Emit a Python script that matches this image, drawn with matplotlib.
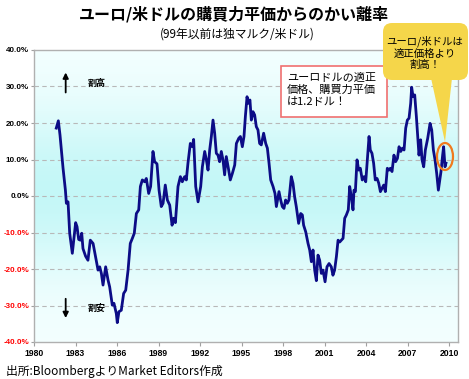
import numpy as np
import matplotlib
matplotlib.use("Agg")
import matplotlib.pyplot as plt
from matplotlib import patches

plt.rcParams['font.family'] = ['Noto Sans CJK JP', 'DejaVu Sans']
plt.rcParams['axes.unicode_minus'] = False

# 購買力平価からのかい離率 (%)
years = [1981.61, 1981.76, 1981.88, 1982.10, 1982.27, 1982.34, 1982.46, 1982.58, 1982.77, 1982.87,
         1983.01, 1983.11, 1983.23, 1983.35, 1983.45, 1983.54, 1983.73, 1983.90, 1984.07, 1984.27,
         1984.50, 1984.63, 1984.75, 1984.87, 1984.99, 1985.18, 1985.35, 1985.47, 1985.66, 1985.78,
         1985.95, 1986.02, 1986.14, 1986.31, 1986.48, 1986.63, 1986.80, 1986.96, 1987.11, 1987.25,
         1987.40, 1987.57, 1987.69, 1987.83, 1988.00, 1988.12, 1988.29, 1988.43, 1988.60, 1988.72,
         1988.89, 1989.04, 1989.20, 1989.33, 1989.49, 1989.64, 1989.81, 1989.98, 1990.10, 1990.22,
         1990.41, 1990.58, 1990.72, 1990.89, 1991.01, 1991.13, 1991.30, 1991.45, 1991.54, 1991.69,
         1991.86, 1992.05, 1992.17, 1992.34, 1992.46, 1992.58, 1992.70, 1992.82, 1992.94, 1993.06,
         1993.18, 1993.30, 1993.42, 1993.54, 1993.66, 1993.78, 1993.90, 1994.05, 1994.19, 1994.34,
         1994.51, 1994.63, 1994.80, 1994.92, 1995.06, 1995.18, 1995.28, 1995.40, 1995.49, 1995.61,
         1995.71, 1995.83, 1995.95, 1996.07, 1996.19, 1996.31, 1996.43, 1996.60, 1996.75, 1996.87,
         1996.99, 1997.11, 1997.28, 1997.42, 1997.52, 1997.71, 1997.83, 1997.95, 1998.07, 1998.19,
         1998.31, 1998.43, 1998.60, 1998.72, 1998.84, 1998.96, 1999.13, 1999.28, 1999.40, 1999.49,
         1999.64, 1999.81, 1999.93, 2000.05, 2000.17, 2000.29, 2000.41, 2000.53, 2000.65, 2000.77,
         2000.89, 2001.04, 2001.18, 2001.33, 2001.49, 2001.61, 2001.73, 2001.86, 2001.98, 2002.10,
         2002.34, 2002.46, 2002.58, 2002.72, 2002.82, 2002.94, 2003.06, 2003.13, 2003.23, 2003.35,
         2003.47, 2003.59, 2003.73, 2003.86, 2003.98, 2004.07, 2004.22, 2004.31, 2004.43, 2004.55,
         2004.67, 2004.80, 2004.92, 2005.04, 2005.16, 2005.28, 2005.40, 2005.54, 2005.66, 2005.76,
         2005.88, 2006.02, 2006.14, 2006.27, 2006.39, 2006.51, 2006.63, 2006.75, 2006.87, 2006.99,
         2007.11, 2007.23, 2007.30, 2007.40, 2007.52, 2007.64, 2007.76, 2007.83, 2007.95, 2008.05,
         2008.17, 2008.29, 2008.41, 2008.46, 2008.63, 2008.75, 2008.87, 2008.99, 2009.11, 2009.23,
         2009.33, 2009.42, 2009.54, 2009.61, 2009.71, 2009.78]
deviation = [18.6, 20.6, 16.7, 7.6, 1.6, -2.0, -1.6, -10.2, -15.7, -12.1,
             -7.3, -8.4, -11.9, -12.1, -10.2, -14.4, -16.5, -17.6, -12.1, -13.0,
             -17.6, -20.3, -19.4, -21.2, -24.4, -19.4, -23.0, -24.9, -29.9, -29.4,
             -32.2, -34.7, -31.7, -31.3, -26.7, -25.8, -20.3, -13.0, -11.6, -10.2,
             -4.8, -3.8, 2.6, 4.4, 3.9, 4.8, 0.7, 2.6, 12.2, 9.4,
             8.8, 1.6, -2.9, -2.0, 3.0, -1.1, -2.5, -8.0, -6.1, -7.3,
             2.6, 5.3, 3.9, 5.3, 4.4, 9.0, 14.4, 13.5, 15.5, 2.6,
             -1.6, 2.6, 8.0, 12.2, 9.9, 7.1, 12.6, 16.3, 20.8, 17.2,
             11.7, 11.2, 9.4, 12.2, 9.9, 5.8, 10.8, 7.6, 4.4, 6.2,
             8.5, 14.4, 15.8, 16.3, 13.5, 16.3, 21.8, 27.2, 25.4, 26.3,
             20.8, 23.1, 22.2, 19.0, 18.1, 14.4, 14.0, 17.2, 14.4, 13.1,
             9.0, 4.4, 2.6, 0.7, -2.9, 1.2, -1.1, -2.9, -3.4, -1.1,
             -2.0, -1.1, 5.3, 3.5, -0.2, -2.9, -7.5, -4.8, -5.2, -8.0,
             -9.8, -13.0, -14.8, -18.0, -14.8, -20.3, -23.2, -16.2, -17.6, -21.2,
             -20.3, -23.5, -19.4, -18.5, -19.4, -21.7, -20.3, -16.6, -12.1, -12.6,
             -11.6, -6.1, -5.2, -3.8, 2.6, -0.2, -3.8, 1.6, 1.2, 9.9,
             7.1, 7.6, 4.4, 5.3, 3.9, 8.5, 16.3, 12.6, 11.7, 9.0,
             4.4, 4.8, 3.5, 1.2, 2.1, 3.0, 1.2, 7.6, 7.1, 7.6,
             6.7, 11.2, 9.4, 10.3, 13.5, 12.2, 13.1, 12.6, 18.6, 20.8,
             21.3, 25.4, 29.8, 27.2, 27.7, 21.8, 14.9, 11.2, 15.4, 9.9,
             8.0, 12.6, 14.9, 15.8, 19.9, 18.1, 12.6, 9.9, 6.2, 1.6,
             4.4, 6.7, 11.2, 13.5, 8.0, 9.0]

x_ticks = [1980, 1983, 1986, 1989, 1992, 1995, 1998, 2001, 2004, 2007, 2010]
y_ticks = [-40, -30, -20, -10, 0, 10, 20, 30, 40]

W, H = 469, 379
fig = plt.figure(figsize=(W / 100, H / 100), dpi=100)
fig.patch.set_facecolor("white")
ax = fig.add_axes([34 / W, 1 - 342 / H, 424 / W, 292 / H])

# 背景のグラデーション
t = np.linspace(0, 1, 256)
w = np.exp(-((t - 0.52) / 0.28) ** 2)
top = np.array([0.96, 1.0, 1.0])
mid = np.array([0.77, 0.97, 0.97])
grad = top[None, :] * (1 - w[:, None]) + mid[None, :] * w[:, None]
ax.imshow(grad[:, None, :], aspect="auto", extent=[1980, 2010.65, -40, 40],
          origin="lower", zorder=0)

for y in y_ticks[1:-1]:
    ax.axhline(y, color="#b8b8b8", lw=0.8, ls=(0, (4, 3)), zorder=1)

ax.plot(years, deviation, color="#0c0c86", lw=2.0, zorder=3)

tick_font = ['Liberation Sans', 'DejaVu Sans']
ax.set_xlim(1980, 2010.65)
ax.set_ylim(-40, 40)
ax.set_xticks(x_ticks)
ax.set_xticklabels([str(v) for v in x_ticks], fontsize=6.2, fontweight="bold",
                   family=tick_font)
ax.set_yticks(y_ticks)
ax.set_yticklabels([f"{v:.1f}%" for v in y_ticks], fontsize=5.8, fontweight="bold",
                   family=tick_font)
for lab, v in zip(ax.get_yticklabels(), y_ticks):
    lab.set_color("red" if v < 0 else "black")
ax.tick_params(axis="x", length=3, width=0.8, color="#a0a0a0", pad=2)
ax.tick_params(axis="y", length=2, width=0.8, color="#a0a0a0", pad=1.5)
for s in ax.spines.values():
    s.set_color("#b0b0b0")
    s.set_linewidth(1.0)

# 割高・割安の矢印
ax.annotate("", xy=(1982.29, 34.6), xytext=(1982.29, 27.6),
            arrowprops=dict(arrowstyle="-|>", color="black", lw=1.3, mutation_scale=8))
ax.annotate("", xy=(1982.29, -34.2), xytext=(1982.29, -27.4),
            arrowprops=dict(arrowstyle="-|>", color="black", lw=1.3, mutation_scale=8))
ax.text(1983.9, 30.7, "割高", fontsize=6.5, fontweight="bold", va="center")
ax.text(1983.9, -30.8, "割安", fontsize=6.5, fontweight="bold", va="center")

# タイトル
fig.text(234 / W, 1 - 14 / H, "ユーロ/米ドルの購買力平価からのかい離率",
         ha="center", va="center", fontsize=11.5, fontweight="bold")
fig.text(237 / W, 1 - 34 / H, "(99年以前は独マルク/米ドル)",
         ha="center", va="center", fontsize=8.5)
fig.text(6 / W, 1 - 372 / H, "出所:BloombergよりMarket Editors作成",
         ha="left", va="center", fontsize=8.5)

pix = fig.dpi_scale_trans


def px(x, y):
    return (x / 100, (H - y) / 100)


# 赤枠のコメント
box = patches.Rectangle(px(281, 117), 106 / 100, 51 / 100, transform=pix,
                        facecolor="white", edgecolor="#f07070", lw=1.2, zorder=5)
fig.add_artist(box)
fig.text(287 / W, 1 - 90 / H, "ユーロドルの適正\n価格、購買力平価\nは1.2ドル！",
         ha="left", va="center", fontsize=8, linespacing=1.25, zorder=6)

# 黄色の吹き出し
ptr = patches.Polygon([px(431, 78), px(452, 78), px(445, 142)], closed=True,
                      transform=pix, facecolor="#f5d64a", edgecolor="none", zorder=5)
fig.add_artist(ptr)
bubble = patches.FancyBboxPatch(px(383, 80), 85 / 100, 57 / 100, transform=pix,
                                boxstyle="round,pad=0,rounding_size=0.09",
                                facecolor="#f5d64a", edgecolor="none", zorder=5)
fig.add_artist(bubble)
fig.text(425 / W, 1 - 53 / H, "ユーロ/米ドルは\n適正価格より\n割高！",
         ha="center", va="center", fontsize=7.5, linespacing=1.15, zorder=6)

ell = patches.Ellipse(px(445, 156.5), 16 / 100, 27 / 100, transform=pix,
                      facecolor="none", edgecolor="#f07a1e", lw=1.6, zorder=6)
fig.add_artist(ell)

fig.savefig("out.png", dpi=100)
